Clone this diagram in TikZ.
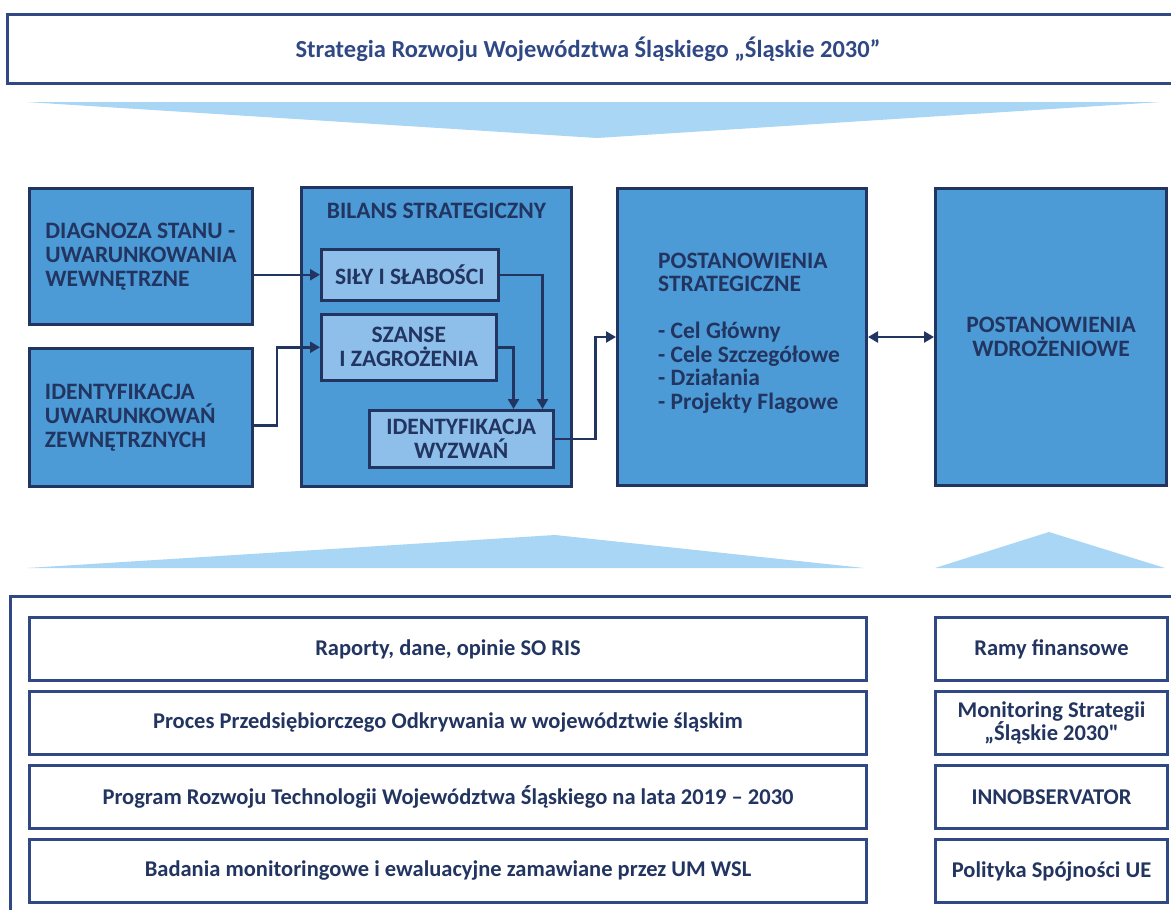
\documentclass[tikz,border=0pt]{standalone}
\usepackage{fontspec}
\setmainfont{Carlito}
\newfontfamily\surowy{Carlito}
\usetikzlibrary{arrows.meta,positioning}

\definecolor{granat}{RGB}{34,52,96}
\definecolor{ramka}{RGB}{48,72,132}
\definecolor{niebieski}{RGB}{76,154,214}
\definecolor{jasny}{RGB}{142,190,234}
\definecolor{klin}{RGB}{168,214,244}

\tikzset{
  blok/.style={draw=granat, line width=3pt, fill=niebieski, text=granat,
    font=\bfseries\fontsize{23.5}{24}\selectfont, align=left,
    anchor=north west, inner sep=0pt},
  podblok/.style={draw=granat, line width=2.5pt, fill=jasny, text=granat,
    font=\bfseries\fontsize{23.5}{24}\selectfont, align=center,
    anchor=north west, inner sep=0pt},
  wiersz/.style={draw=ramka, line width=3pt, fill=white, text=granat,
    font=\bfseries\fontsize{22.5}{22}\selectfont, align=center,
    anchor=north west, inner sep=0pt, minimum height=63pt},
  strzalka/.style={draw=granat, line width=2.5pt,
    -{Triangle[length=10pt,width=11pt]}},
}

\begin{document}
\begin{tikzpicture}[x=1pt,y=-1pt]
\clip (0,0) rectangle (1171,910);

% naglowek
\node[draw=ramka, line width=3pt, text=ramka, anchor=north west,
      minimum width=1175pt, minimum height=69pt, inner sep=0pt,
      font=\bfseries\fontsize{24.5}{28}\selectfont]
  (strategia) at (6,13) {\hspace*{-14pt}Strategia Rozwoju Województwa Śląskiego „Śląskie 2030”};

\fill[klin] (26,102) -- (1161,102) -- (597,138) -- cycle;

% srodkowy rzad
\node[blok, minimum width=223pt, minimum height=136pt]
  (diagnoza) at (28,187) {DIAGNOZA STANU -\\UWARUNKOWANIA\\WEWNĘTRZNE};
\node[blok, minimum width=223pt, minimum height=138pt, text width=192pt]
  (zewnetrzne) at (28,347) {IDENTYFIKACJA\\UWARUNKOWAŃ\\ZEWNĘTRZNYCH};
\node[blok, minimum width=270pt, minimum height=299pt] (bilans) at (300,186) {};
\node[text=granat, font=\bfseries\fontsize{23.5}{24}\selectfont,
      below=14pt of bilans.north] (bilanstyt) {BILANS STRATEGICZNY};

\node[podblok, minimum width=177pt, minimum height=51pt] (sily) at (320,248) {SIŁY I SŁABOŚCI};
\node[podblok, minimum width=175pt, minimum height=66pt] (szanse) at (320,313) {SZANSE\\I ZAGROŻENIA};
\node[podblok, minimum width=184pt, minimum height=57pt] (wyzwania) at (368,409) {IDENTYFIKACJA\\WYZWAŃ};

\node[blok, minimum width=249pt, minimum height=297pt] (strategiczne) at (616,187) {};
\node[text=granat, font=\bfseries\fontsize{23.5}{23.5}\selectfont, align=left,
      anchor=west, inner sep=0pt] (strategicznetxt) at (658,333)
  {POSTANOWIENIA\\STRATEGICZNE\\[23.5pt]- Cel Główny\\- Cele Szczegółowe\\- Działania\\- Projekty Flagowe};
\node[blok, minimum width=231pt, minimum height=297pt, align=center]
  (wdrozeniowe) at (934,187) {POSTANOWIENIA\\WDROŻENIOWE};

\coordinate (wej1) at ([xshift=-12pt]wyzwania.north east);
\coordinate (wej2) at ([xshift=-41pt]wyzwania.north east);

\draw[strzalka] (diagnoza.east |- sily.west) -- (sily.west);
\draw[strzalka] ([yshift=-8pt]zewnetrzne.east) -- ++(23,0) |- (szanse.west);
\draw[strzalka] (sily.east) -| (wej1);
\draw[strzalka] (szanse.east) -| (wej2);
\draw[strzalka] (wyzwania.east) -- ++(41,0) |- (strategiczne.west);
\draw[strzalka, {Triangle[length=10pt,width=11pt]}-{Triangle[length=10pt,width=11pt]}]
  (strategiczne.east) -- (wdrozeniowe.west);

% kliny
\fill[klin] (27,568) -- (555,535) -- (864,568) -- cycle;
\fill[klin] (935,568) -- (1049,532) -- (1165,568) -- cycle;

% dolna ramka
\draw[ramka, line width=3pt] (10,920) -- (10,596) -- (1180,596);

\node[wiersz, minimum width=837pt] (raporty) at (28,616) {Raporty, dane, opinie SO RIS};
\node[wiersz, minimum width=837pt] (proces) at (28,690) {Proces Przedsiębiorczego Odkrywania w województwie śląskim};
\node[wiersz, minimum width=837pt] (program) at (28,764) {Program Rozwoju Technologii Województwa Śląskiego na lata 2019 – 2030};
\node[wiersz, minimum width=837pt] (badania) at (28,838) {Badania monitoringowe i ewaluacyjne zamawiane przez UM WSL};

\node[wiersz, minimum width=232pt] (ramy) at (934,616) {Ramy finansowe};
\node[wiersz, minimum width=232pt] (monitoring) at (934,690) {Monitoring Strategii\\„Śląskie 2030{\surowy"}};
\node[wiersz, minimum width=232pt] (innobs) at (934,764) {INNOBSERVATOR};
\node[wiersz, minimum width=232pt] (polityka) at (934,838) {Polityka Spójności UE};
\end{tikzpicture}
\end{document}
